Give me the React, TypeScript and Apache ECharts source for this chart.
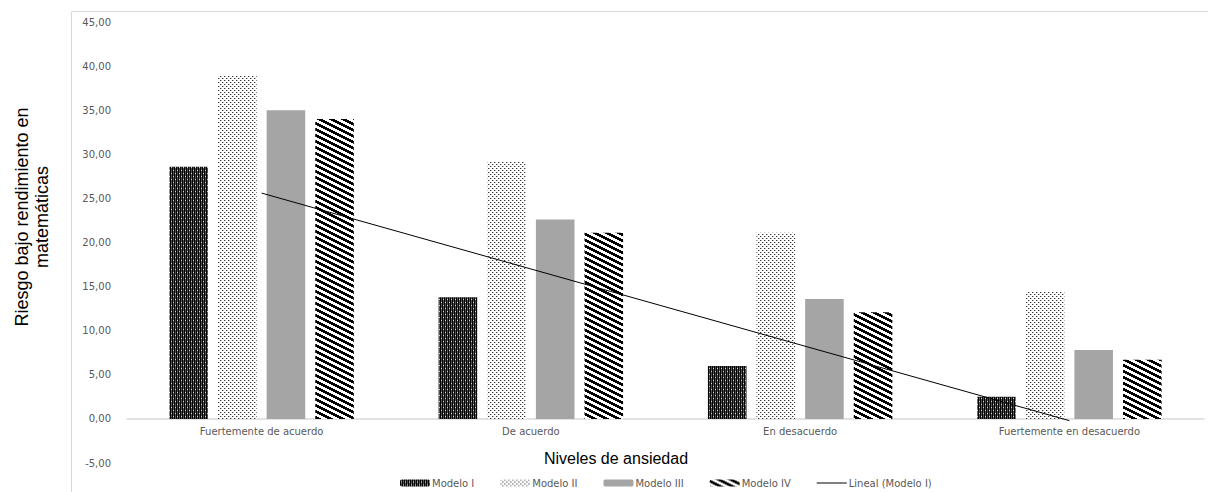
import React, { useEffect, useRef } from "react";
import * as echarts from "echarts";

const categories = [
  "Fuertemente de acuerdo",
  "De acuerdo",
  "En desacuerdo",
  "Fuertemente en desacuerdo",
];
const modelo1 = [28.6, 13.8, 6.0, 2.5];
const modelo2 = [39.0, 29.2, 21.1, 14.5];
const modelo3 = [35.0, 22.6, 13.6, 7.8];
const modelo4 = [34.0, 21.1, 12.1, 6.7];
const linealModelo1 = [25.6, 17.0, 8.4, -0.2];
const seriesNames = ["Modelo I", "Modelo II", "Modelo III", "Modelo IV", "Lineal (Modelo I)"];
const yTicks = { min: -5, max: 45, interval: 5 };

function makeCanvas(w: number, h: number, draw: (ctx: CanvasRenderingContext2D) => void) {
  const c = document.createElement("canvas");
  c.width = w;
  c.height = h;
  const ctx = c.getContext("2d") as CanvasRenderingContext2D;
  draw(ctx);
  return c;
}

function patternDark() {
  return makeCanvas(4, 6, (ctx) => {
    ctx.fillStyle = "#000";
    ctx.fillRect(0, 0, 4, 6);
    ctx.fillStyle = "#505050";
    ctx.fillRect(1, 0, 1, 6);
    ctx.fillRect(3, 0, 1, 6);
    ctx.fillStyle = "#d8d8d8";
    ctx.fillRect(1, 2, 1, 1);
    ctx.fillRect(3, 5, 1, 1);
  });
}

function patternDots() {
  return makeCanvas(4, 4, (ctx) => {
    ctx.fillStyle = "#fff";
    ctx.fillRect(0, 0, 4, 4);
    ctx.fillStyle = "#333";
    ctx.fillRect(0, 0, 1, 1);
    ctx.fillRect(2, 2, 1, 1);
    ctx.fillStyle = "#bbb";
    ctx.fillRect(1, 0, 1, 1);
    ctx.fillRect(3, 2, 1, 1);
  });
}

function patternDiag() {
  return makeCanvas(12, 6, (ctx) => {
    ctx.fillStyle = "#fff";
    ctx.fillRect(0, 0, 12, 6);
    ctx.fillStyle = "#000";
    for (let x = 0; x < 12; x++) {
      for (let y = 0; y < 6; y++) {
        const d = (((y - x / 2) % 6) + 6) % 6;
        if (d < 2.8) ctx.fillRect(x, y, 1, 1);
      }
    }
  });
}

export default function App() {
  const ref = useRef<HTMLDivElement>(null);

  useEffect(() => {
    document.body.style.margin = "0";
    if (!ref.current) return;
    const chart = echarts.init(ref.current, undefined, { renderer: "svg" });
    const p1 = { image: patternDark(), repeat: "repeat" } as any;
    const p2 = { image: patternDots(), repeat: "repeat" } as any;
    const p4 = { image: patternDiag(), repeat: "repeat" } as any;
    const labelFont = "DejaVu Sans, Verdana, sans-serif";

    const barCommon = {
      type: "bar" as const,
      barGap: "26%",
      barCategoryGap: "31.5%",
    };

    chart.setOption({
      animation: false,
      grid: { left: 127, right: 4, top: 22, bottom: 29, containLabel: false },
      graphic: [
        {
          type: "rect",
          z: -10,
          shape: { x: 71.5, y: 11.5, width: 1300, height: 600 },
          style: { fill: "none", stroke: "#d9d9d9", lineWidth: 1 },
          silent: true,
        },
        {
          type: "text",
          x: 12,
          y: 217,
          rotation: Math.PI / 2,
          style: {
            text: "Riesgo bajo rendimiento en\nmatemáticas",
            font: "18px 'Liberation Sans', Arial, sans-serif",
            fill: "#000",
            align: "center",
            verticalAlign: "top",
            lineHeight: 20,
          },
        },
        {
          type: "text",
          x: 616,
          y: 458,
          style: {
            text: "Niveles de ansiedad",
            font: "16px 'Liberation Sans', Arial, sans-serif",
            fill: "#000",
            align: "center",
            verticalAlign: "middle",
          },
        },
      ],
      legend: {
        data: [
          seriesNames[0],
          seriesNames[1],
          seriesNames[2],
          seriesNames[3],
          { name: seriesNames[4], icon: "path://M0,0H30V1H0Z" },
        ],
        top: 473,
        left: 395,
        itemWidth: 30,
        itemHeight: 7,
        itemGap: 26,
        symbolKeepAspect: true,
        textStyle: { fontFamily: labelFont, fontSize: 10, color: "#595959", padding: [0, 0, 0, -3] },
      },
      xAxis: {
        type: "category",
        data: categories,
        axisLine: { show: true, onZero: true, lineStyle: { color: "#d9d9d9", width: 1.5 } },
        axisTick: { show: false },
        axisLabel: {
          fontFamily: labelFont,
          fontSize: 10,
          color: "#595959",
          margin: -37,
        },
      },
      yAxis: {
        type: "value",
        min: yTicks.min,
        max: yTicks.max,
        interval: yTicks.interval,
        axisLine: { show: false },
        axisTick: { show: false },
        splitLine: { show: false },
        axisLabel: {
          fontFamily: labelFont,
          fontSize: 10,
          color: "#595959",
          margin: 16,
          formatter: (v: number) => v.toFixed(2).replace(".", ","),
        },
      },
      series: [
        { ...barCommon, name: seriesNames[0], data: modelo1, itemStyle: { color: p1 } },
        { ...barCommon, name: seriesNames[1], data: modelo2, itemStyle: { color: p2 } },
        { ...barCommon, name: seriesNames[2], data: modelo3, itemStyle: { color: "#a5a5a5" } },
        { ...barCommon, name: seriesNames[3], data: modelo4, itemStyle: { color: p4 } },
        {
          type: "line",
          name: seriesNames[4],
          data: linealModelo1,
          symbol: "none",
          z: 5,
          lineStyle: { color: "#000", width: 1 },
          itemStyle: { color: "#000" },
        },
      ],
    });
    return () => chart.dispose();
  }, []);

  return <div ref={ref} style={{ width: 1208, height: 492 }} />;
}
